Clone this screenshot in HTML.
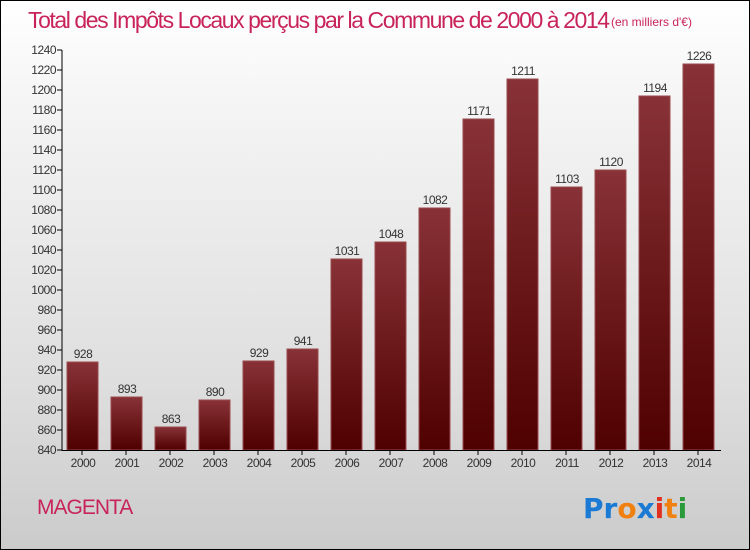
<!DOCTYPE html>
<html><head><meta charset="utf-8"><style>
body{margin:0}
#c{width:748px;height:548px;border:1px solid #000;background:linear-gradient(#fff,#f4f4f4 20%,#dedede 70%,#cbcbcb);position:relative;overflow:hidden;font-family:"Liberation Sans",sans-serif}
</style></head><body>
<div id="c">
<svg id="s" width="748" height="548"></svg>
</div>
<script>
const years=["2000","2001","2002","2003","2004","2005","2006","2007","2008","2009","2010","2011","2012","2013","2014"];
const values=[928,893,863,890,929,941,1031,1048,1082,1171,1211,1103,1120,1194,1226];
const ticks=[840,860,880,900,920,940,960,980,1000,1020,1040,1060,1080,1100,1120,1140,1160,1180,1200,1220,1240];
const ns="http://www.w3.org/2000/svg";
const s=document.getElementById('s');
const y=v=>449-(v-840);
const x=i=>81+i*44;
function mk(t,a,txt){const e=document.createElementNS(ns,t);for(const k in a)e.setAttribute(k,a[k]);if(txt!=null)e.textContent=txt;s.appendChild(e);return e;}
const defs=mk('defs',{});
defs.innerHTML='<linearGradient id="g" x1="0" y1="0" x2="0" y2="1"><stop offset="0" stop-color="#883237"/><stop offset="1" stop-color="#4f0000"/></linearGradient>';
let t=mk('text',{x:27,y:27,'font-size':23,fill:'#c8245a'},'Total des Impôts Locaux perçus par la Commune de 2000 à 2014');

t.setAttribute('textLength','582');
let t2=mk('text',{x:610,y:25,'font-size':12,fill:'#c8245a'},'(en milliers d\'€)');

ticks.forEach(v=>{
 let l=mk('line',{x1:56,x2:61,y1:y(v),y2:y(v),stroke:'#000'});
 
 let tt=mk('text',{x:55,y:y(v)+4,'font-size':12,fill:'#333','text-anchor':'end','letter-spacing':'-0.5'},v);
 
});
values.forEach((v,i)=>{
 let r=mk('rect',{x:x(i)-15,y:y(v),width:31,height:449-y(v),fill:'url(#g)',stroke:'#9a4a4e','stroke-width':1});
 
 let lb=mk('text',{x:x(i)+1,y:y(v)-4,'font-size':12,fill:'#333','text-anchor':'middle','letter-spacing':'-0.5'},v);
 
 let tk=mk('line',{x1:x(i),x2:x(i),y1:449,y2:454,stroke:'#000'});
 
 let xl=mk('text',{x:x(i)+1,y:466,'font-size':12,fill:'#333','text-anchor':'middle','letter-spacing':'-0.5'},years[i]);
 
});
let ya=mk('line',{x1:61,x2:61,y1:49,y2:450,stroke:'#000'});

let xa=mk('line',{x1:61,x2:720,y1:449.5,y2:449.5,stroke:'#000'});

let m=mk('text',{x:36,y:513,'font-size':21,fill:'#c8245a','letter-spacing':'-1'},'MAGENTA');

let p=mk('text',{x:582,y:517,'font-size':28,'font-family':'DejaVu Sans, sans-serif','font-weight':'bold'});

p.innerHTML='<tspan fill="#1a7ad4">Pr</tspan><tspan fill="#f08010">o</tspan><tspan fill="#1a7ad4">x</tspan><tspan fill="#e03020">i</tspan><tspan fill="#f08010">t</tspan><tspan fill="#2a9a3a">i</tspan>';
</script>
</body></html>
